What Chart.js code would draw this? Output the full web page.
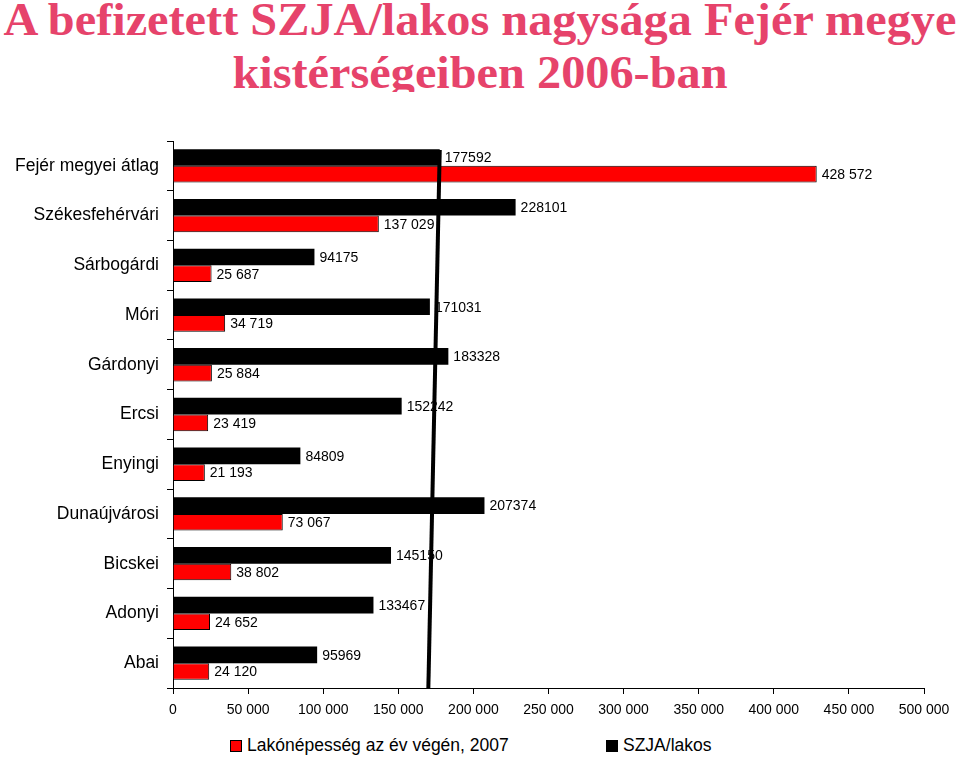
<!DOCTYPE html>
<html lang="hu">
<head>
<meta charset="UTF-8">
<title>SZJA/lakos Fejér megye</title>
<script src="https://cdn.jsdelivr.net/npm/chart.js"></script>
<style>
    body { margin: 0; background: #fff; width: 960px; height: 768px; overflow: hidden; position: relative; }
    #cimdoboz { position: absolute; top: 0; left: 0; width: 960px; height: 92px; overflow: hidden; }
    #cim {
        position: absolute; top: -7px; left: 0; width: 960px;
        font-family: "Liberation Serif", "DejaVu Serif", serif; font-weight: bold;
        font-size: 46px; line-height: 53px; color: #E6436B; text-align: center; white-space: nowrap;
        transform: scaleX(1.05); transform-origin: 480px 0;
    }
    #doboz { position: absolute; top: 96px; left: 0; width: 960px; height: 636px; }
    .jelmagyarazat {
        position: absolute; top: 735px; height: 20px; line-height: 20px;
        font-family: "Liberation Sans", Arial, sans-serif; font-size: 17.5px; color: #000; white-space: nowrap;
    }
    .jelmagyarazat i {
        display: inline-block; width: 10px; height: 10px; border: 1px solid #000;
        margin-right: 5px; vertical-align: -1px;
    }
</style>
</head>
<body>
<div id="cimdoboz"><div id="cim">A befizetett SZJA/lakos nagysága Fejér megye<br>kistérségeiben 2006-ban</div></div>
<div id="doboz"><canvas id="szjaChart"></canvas></div>
<div id="jm1" class="jelmagyarazat" style="left:230px"></div>
<div id="jm2" class="jelmagyarazat" style="left:606px"></div>
<script>
// Adatok
const kisterseg = ['Fejér megyei átlag', 'Székesfehérvári', 'Sárbogárdi', 'Móri', 'Gárdonyi', 'Ercsi',
    'Enyingi', 'Dunaújvárosi', 'Bicskei', 'Adonyi', 'Abai'];
const lakonepesseg = [428572, 137029, 25687, 34719, 25884, 23419, 21193, 73067, 38802, 24652, 24120];
const szjaLakos = [177592, 228101, 94175, 171031, 183328, 152242, 84809, 207374, 145150, 133467, 95969];
const xTickek = [0, 50000, 100000, 150000, 200000, 250000, 300000, 350000, 400000, 450000, 500000];
const sorozatNevek = ['Lakónépesség az év végén, 2007', 'SZJA/lakos'];
// kézzel rajzolt átlagvonal: felül és alul
const atlagVonal = [177592, 170000];

function ezres(v) {
    return String(v).replace(/\B(?=(\d{3})+(?!\d))/g, ' ');
}

// értékcímkék a sávok végén
const cimkek = {
    id: 'cimkek',
    afterDatasetsDraw(chart) {
        const ctx = chart.ctx;
        ctx.save();
        ctx.font = '14px "Liberation Sans", Arial, sans-serif';
        ctx.fillStyle = '#000';
        ctx.textBaseline = 'middle';
        ctx.textAlign = 'left';
        chart.data.datasets.forEach((ds, i) => {
            chart.getDatasetMeta(i).data.forEach((bar, j) => {
                const szoveg = i === 1 ? ezres(ds.data[j]) : String(ds.data[j]);
                ctx.fillText(szoveg, bar.x + 5, bar.y + 1);
            });
        });
        ctx.restore();
    }
};

// vastag fekete vonal
const vonal = {
    id: 'vonal',
    afterDraw(chart) {
        const x = chart.scales.x, ca = chart.chartArea, ctx = chart.ctx;
        ctx.save();
        ctx.strokeStyle = '#000';
        ctx.lineWidth = 4;
        ctx.beginPath();
        ctx.moveTo(x.getPixelForValue(atlagVonal[0]), ca.top + 9);
        ctx.lineTo(x.getPixelForValue(atlagVonal[1]), ca.bottom);
        ctx.stroke();
        ctx.restore();
    }
};

const chart = new Chart(document.getElementById('szjaChart'), {
    type: 'bar',
    data: {
        labels: kisterseg,
        datasets: [{
            label: sorozatNevek[1],
            data: szjaLakos,
            backgroundColor: '#000000',
            borderColor: '#000000',
            borderWidth: 0
        }, {
            label: sorozatNevek[0],
            data: lakonepesseg,
            backgroundColor: '#FF0000',
            borderColor: '#000000',
            borderWidth: 1
        }]
    },
    options: {
        indexAxis: 'y',
        responsive: true,
        maintainAspectRatio: false,
        animation: false,
        categoryPercentage: 0.67,
        barPercentage: 1.0,
        layout: { padding: { top: 45, right: 36, left: 0, bottom: 0 } },
        scales: {
            x: {
                min: 0, max: 500000,
                afterBuildTicks(s) { s.ticks = xTickek.map(v => ({ value: v })); },
                afterFit(s) { s.height = 44; },
                grid: { drawOnChartArea: false, color: '#000', tickLength: 6, tickColor: '#000' },
                border: { color: '#000', width: 1 },
                ticks: {
                    color: '#000', padding: 8, maxRotation: 0,
                    font: { family: '"Liberation Sans", Arial, sans-serif', size: 14 },
                    callback: v => ezres(v)
                }
            },
            y: {
                afterFit(s) { s.width = 173; },
                grid: { drawOnChartArea: false, color: '#000', tickLength: 6, tickColor: '#000' },
                border: { color: '#000', width: 1 },
                ticks: {
                    color: '#000', padding: 8,
                    font: { family: '"Liberation Sans", Arial, sans-serif', size: 17.5 }
                }
            }
        },
        plugins: {
            legend: { display: false },
            tooltip: { enabled: false }
        }
    },
    plugins: [cimkek, vonal]
});

// jelmagyarázat a sorozatok színeiből
[['jm1', 1], ['jm2', 0]].forEach(([id, i]) => {
    const ds = chart.data.datasets[i];
    document.getElementById(id).innerHTML =
        '<i style="background:' + ds.backgroundColor + '"></i>' + ds.label;
});
</script>
</body>
</html>
